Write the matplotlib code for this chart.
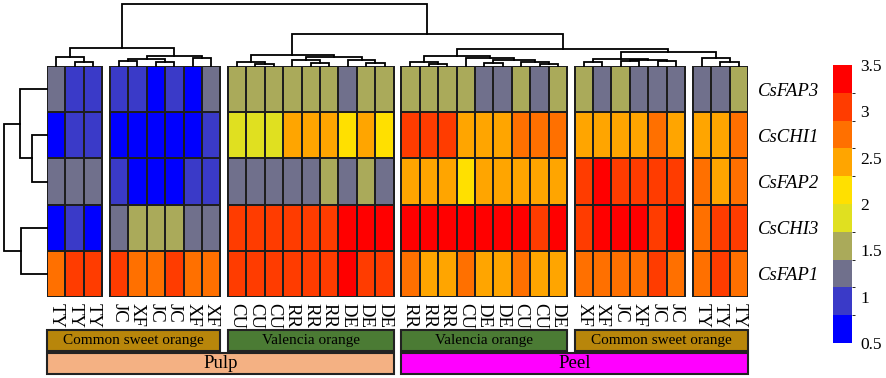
import matplotlib
matplotlib.use('Agg')
import matplotlib.pyplot as plt
import numpy as np
from matplotlib.colors import ListedColormap, BoundaryNorm
from matplotlib.cm import ScalarMappable
from matplotlib.patches import Rectangle

plt.rcParams['font.family'] = ['Liberation Serif', 'DejaVu Serif']

# 数据
row_labels = ['CsFAP3', 'CsCHI1', 'CsFAP2', 'CsCHI3', 'CsFAP1']
col_labels = ['TY', 'TY', 'TY',
              'JC', 'XF', 'JC', 'JC', 'XF', 'XF',
              'CU', 'CU', 'CU', 'RR', 'RR', 'RR', 'DE', 'DE', 'DE',
              'RR', 'RR', 'RR', 'CU', 'DE', 'DE', 'CU', 'CU', 'DE',
              'XF', 'XF', 'JC', 'XF', 'JC', 'JC',
              'TY', 'TY', 'TY']
group_sizes = [3, 6, 9, 9, 6, 3]

fap3 = [1.25, 0.95, 0.95,
        0.95, 0.95, 0.65, 0.95, 0.65, 1.25,
        1.55, 1.55, 1.55, 1.55, 1.55, 1.55, 1.25, 1.55, 1.55,
        1.55, 1.55, 1.55, 1.55, 1.25, 1.25, 1.55, 1.25, 1.55,
        1.55, 1.25, 1.55, 1.25, 1.25, 1.25,
        1.25, 1.25, 1.55]
chi1 = [0.65, 0.95, 0.95,
        0.65, 0.65, 0.65, 0.65, 0.65, 0.95,
        1.85, 1.85, 1.85, 2.45, 2.45, 2.45, 2.15, 2.45, 2.15,
        3.05, 3.05, 3.05, 2.45, 2.45, 2.45, 2.75, 2.75, 2.75,
        2.45, 2.45, 2.45, 2.45, 2.75, 2.45,
        2.45, 2.45, 2.75]
fap2 = [1.25, 1.25, 1.25,
        0.95, 0.65, 0.65, 0.65, 0.95, 0.95,
        1.25, 1.25, 1.25, 1.25, 1.25, 1.55, 1.25, 1.55, 1.25,
        2.45, 2.45, 2.45, 2.15, 2.45, 2.45, 2.45, 2.45, 2.45,
        3.05, 3.35, 3.05, 3.05, 3.05, 3.05,
        2.75, 2.45, 2.75]
chi3 = [0.65, 0.95, 0.65,
        1.25, 1.55, 1.55, 1.55, 1.25, 1.25,
        3.05, 3.05, 3.05, 3.05, 3.05, 3.05, 3.35, 3.35, 3.35,
        3.35, 3.35, 3.35, 3.35, 3.35, 3.35, 3.35, 3.05, 3.35,
        3.05, 3.35, 3.35, 3.35, 3.05, 3.35,
        2.75, 3.05, 3.05]
fap1 = [2.75, 3.05, 3.05,
        3.05, 2.75, 2.75, 3.05, 2.75, 2.75,
        3.05, 3.05, 3.05, 3.05, 3.05, 3.05, 3.35, 3.05, 3.05,
        2.75, 2.45, 2.45, 2.75, 2.45, 2.45, 2.75, 2.45, 2.45,
        2.75, 2.75, 2.75, 2.75, 3.05, 2.75,
        2.75, 3.05, 2.75]
values = np.array([fap3, chi1, fap2, chi3, fap1])

# 聚类树 [左, 右, 高度]
g1 = [0, [1, 2, 4], 9]
g2 = [[[3, 4, 5], [5, 6, 4], 7], [7, 8, 8], 10]
g3 = [[9, [10, 11, 2], 4], [[12, [13, 14, 3], 6], [15, [16, 17, 3], 6], 9], 11]
g4 = [[18, [19, 20, 2], 4], [21, [[22, 23, 3], [24, [25, 26, 2], 4], 6], 8], 10]
g5 = [[27, 28, 4], [[29, 30, 5], [31, 32, 5], 6], 7]
g6 = [33, [34, 35, 4], 8]
col_tree = [[g1, g2, 18], [g3, [g4, [g5, g6, 14], 17], 32], 62]
row_tree = [[0, [1, 2, 15], 27], [3, 4, 26], 43]

variety_labels = ['Common sweet orange', 'Valencia orange', 'Valencia orange', 'Common sweet orange']
variety_groups = [(0, 1), (2, 2), (3, 3), (4, 5)]
variety_colors = ['#b8860b', '#4b7b34', '#4b7b34', '#b8860b']
tissue_labels = ['Pulp', 'Peel']
tissue_groups = [(0, 2), (3, 5)]
tissue_colors = ['#f4b183', '#ff00ff']

level_colors = ['#0000ff', '#3a3ac8', '#70708c', '#aaaa5a', '#e0e020',
                '#ffe000', '#ffa500', '#ff7000', '#ff3c00', '#ff0000']
bounds = np.linspace(0.5, 3.5, 11)
cmap = ListedColormap(level_colors)
norm = BoundaryNorm(bounds, cmap.N)

W, H = 886, 378
fig = plt.figure(figsize=(W / 100, H / 100), dpi=100)


def fig_axes(x0, y0, x1, y1):
    return fig.add_axes([x0 / W, 1 - y1 / H, (x1 - x0) / W, (y1 - y0) / H])


gap = 0.38
offsets = []
starts = []
pos = 0.0
k = 0
for gi, n in enumerate(group_sizes):
    starts.append(pos)
    offsets += [pos + j + 0.5 for j in range(n)]
    pos += n + gap
    k += n
ends = [s + n for s, n in zip(starts, group_sizes)]
xmax = ends[-1]

# 热图
ax = fig_axes(47, 66, 748, 297)
k = 0
for gi, n in enumerate(group_sizes):
    xe = starts[gi] + np.arange(n + 1)
    ye = np.arange(6)
    ax.pcolormesh(xe, ye, values[:, k:k + n], cmap=cmap, norm=norm,
                  edgecolors='#1e1e1e', linewidth=1.3)
    k += n
ax.set_xlim(0, xmax)
ax.set_ylim(5, 0)
for s in ax.spines.values():
    s.set_visible(False)
ax.set_xticks(offsets)
ax.set_xticklabels(col_labels, rotation=270, fontsize=13.5)
ax.tick_params(axis='x', length=0, pad=4)
ax.yaxis.tick_right()
ax.set_yticks(np.arange(5) + 0.5)
ax.set_yticklabels(row_labels, fontsize=13.5, style='italic')
ax.tick_params(axis='y', length=0, pad=7)


def draw_tree(a, node, pos_of, vertical=True):
    if not isinstance(node, list):
        return pos_of(node), 0
    xl, hl = draw_tree(a, node[0], pos_of, vertical)
    xr, hr = draw_tree(a, node[1], pos_of, vertical)
    h = node[2]
    xs = [xl, xl, xr, xr]
    hs = [hl, h, h, hr]
    if vertical:
        a.plot(xs, hs, color='black', lw=1.3, solid_joinstyle='miter', clip_on=False)
    else:
        a.plot(hs, xs, color='black', lw=1.3, solid_joinstyle='miter', clip_on=False)
    return (xl + xr) / 2, h


# 列聚类树
dax = fig_axes(47, 4, 748, 66)
draw_tree(dax, col_tree, lambda i: offsets[i])
dax.set_xlim(0, xmax)
dax.set_ylim(0, 62)
dax.axis('off')

# 行聚类树
rax = fig_axes(4, 66, 47, 297)
draw_tree(rax, row_tree, lambda i: i + 0.5, vertical=False)
rax.set_xlim(43, 0)
rax.set_ylim(5, 0)
rax.axis('off')

# 注释条
aax = fig_axes(47, 328, 748, 376)
aax.set_xlim(0, xmax)
aax.set_ylim(48, 0)
aax.axis('off')
for lab, (a, b), c in zip(variety_labels, variety_groups, variety_colors):
    x0, x1 = starts[a], ends[b]
    aax.add_patch(Rectangle((x0, 2), x1 - x0, 21, facecolor=c,
                            edgecolor='#222222', lw=1.5, clip_on=False))
    aax.text((x0 + x1) / 2, 12.5, lab, ha='center', va='center', fontsize=11)
for lab, (a, b), c in zip(tissue_labels, tissue_groups, tissue_colors):
    x0, x1 = starts[a], ends[b]
    aax.add_patch(Rectangle((x0, 25), x1 - x0, 21, facecolor=c,
                            edgecolor='#222222', lw=1.5, clip_on=False))
    aax.text((x0 + x1) / 2, 35.5, lab, ha='center', va='center', fontsize=13.5)

# 色标
cax = fig_axes(833, 65, 852, 343)
cb = fig.colorbar(ScalarMappable(norm=norm, cmap=cmap), cax=cax,
                  ticks=[0.5, 1, 1.5, 2, 2.5, 3, 3.5])
cb.outline.set_visible(False)
cb.ax.set_yticklabels(['0.5', '1', '1.5', '2', '2.5', '3', '3.5'])
cax.tick_params(length=0, labelsize=12.5, pad=6)

fig.savefig('out.png', dpi=100)
